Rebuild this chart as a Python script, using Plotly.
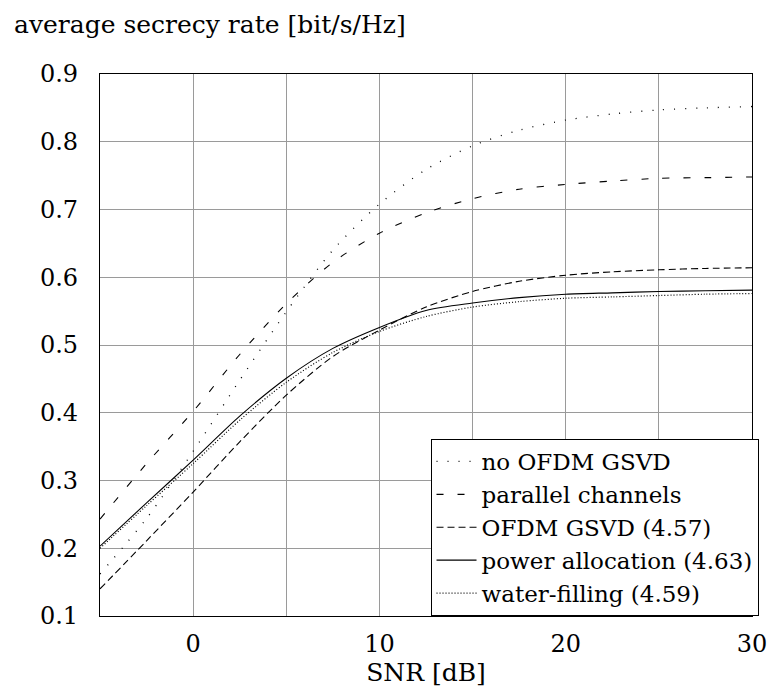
import plotly.graph_objects as go

# SNR grid in dB
snr = [-5, -2.5, 0, 2.5, 5, 7.5, 10, 12.5, 15, 17.5, 20, 22.5, 25, 27.5, 30]

# average secrecy rate [bit/s/Hz] per scheme
no_ofdm_gsvd = [0.162, 0.244, 0.343, 0.448, 0.549, 0.640, 0.708, 0.759, 0.794,
                0.817, 0.832, 0.841, 0.847, 0.850, 0.852]
parallel_channels = [0.243, 0.325, 0.402, 0.486, 0.561, 0.622, 0.665, 0.695, 0.716,
                     0.730, 0.737, 0.742, 0.746, 0.747, 0.748]
ofdm_gsvd = [0.140, 0.211, 0.283, 0.357, 0.426, 0.483, 0.522, 0.556, 0.579,
             0.594, 0.603, 0.608, 0.611, 0.613, 0.614]
power_allocation = [0.203, 0.267, 0.330, 0.395, 0.451, 0.495, 0.526, 0.551, 0.562,
                    0.570, 0.575, 0.577, 0.579, 0.580, 0.581]
water_filling = [0.200, 0.263, 0.325, 0.389, 0.445, 0.489, 0.520, 0.542, 0.556,
                 0.564, 0.569, 0.571, 0.573, 0.575, 0.576]

x_ticks = [0, 10, 20, 30]
y_ticks = [0.1, 0.2, 0.3, 0.4, 0.5, 0.6, 0.7, 0.8, 0.9]

FONT = "DejaVu Serif"

series = [
    ("no OFDM GSVD", no_ofdm_gsvd, "1px,10px", 1.3),
    ("parallel channels", parallel_channels, "7px,14px", 1.1),
    ("OFDM GSVD (4.57)", ofdm_gsvd, "7px,4px", 1.1),
    ("power allocation (4.63)", power_allocation, "solid", 1.1),
    ("water-filling (4.59)", water_filling, "1px,2px", 1.2),
]

fig = go.Figure()
for name, values, dash, width in series:
    fig.add_trace(go.Scatter(
        x=snr, y=values, name=name, mode="lines",
        line=dict(color="black", width=width, dash=dash, shape="spline", smoothing=0.8),
    ))

axis_common = dict(
    showgrid=True, gridcolor="#9a9a9a", gridwidth=1,
    showline=True, linecolor="black", linewidth=1.3, mirror=True,
    zeroline=False, ticks="", tickfont=dict(family=FONT, size=24, color="black"),
)

fig.update_layout(
    width=779, height=691,
    margin=dict(l=100, r=16, t=74, b=71),
    paper_bgcolor="white", plot_bgcolor="white",
    font=dict(family=FONT, color="black"),
    title=dict(
        text="average secrecy rate [bit/s/Hz]",
        font=dict(family=FONT, size=25, color="black"),
        xref="container", x=14 / 779, xanchor="left",
        yref="container", y=1 - 24 / 691, yanchor="middle",
    ),
    xaxis=dict(
        range=[-5, 30], tickvals=x_ticks, dtick=5,
        ticklabelstandoff=6,
        title=dict(text="SNR [dB]", font=dict(family=FONT, size=25, color="black"), standoff=4),
        minor=dict(showgrid=True, gridcolor="#9a9a9a", gridwidth=1, tickvals=[-5, 5, 15, 25]),
        **axis_common,
    ),
    yaxis=dict(
        range=[0.1, 0.9], tickvals=y_ticks, tickformat=".1f",
        ticklabelstandoff=16,
        **axis_common,
    ),
    legend=dict(
        x=1.01, y=0.0, xanchor="right", yanchor="bottom",
        bgcolor="white", bordercolor="black", borderwidth=1,
        font=dict(family=FONT, size=23, color="black"),
        itemwidth=40, tracegroupgap=0,
    ),
    showlegend=True,
)

fig.write_html("out.html")
